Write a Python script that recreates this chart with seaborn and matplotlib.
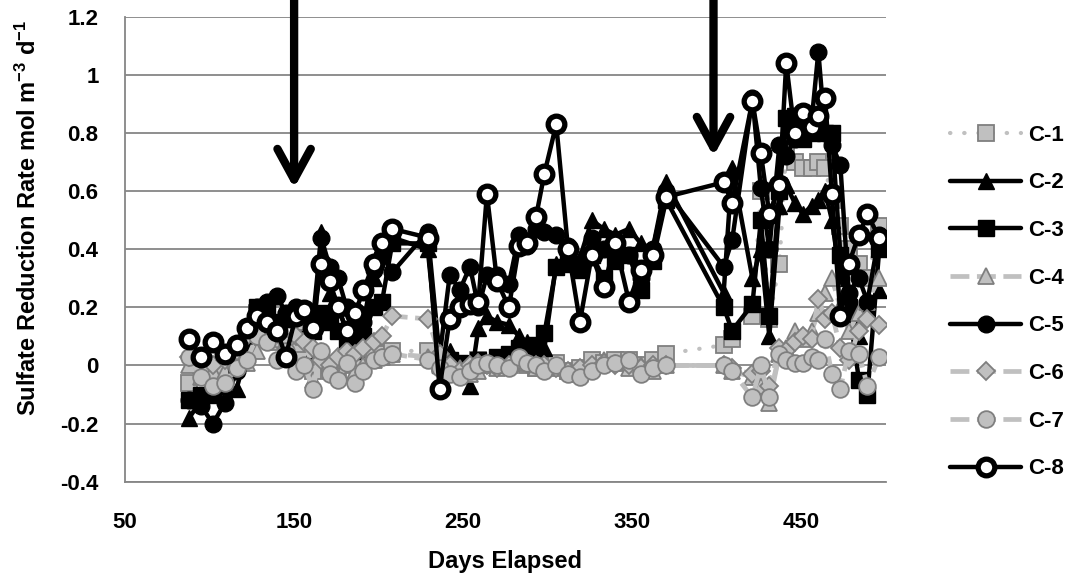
import matplotlib
matplotlib.use("Agg")
import matplotlib.pyplot as plt
import seaborn as sns

# Sampling days (days elapsed) shared by all columns
days = [88, 95, 102, 109, 116, 122, 128, 134, 140, 145,
        151, 156, 161, 166, 171, 176, 181, 186, 191, 197,
        202, 208, 229, 236, 242, 248, 254, 259, 264, 270,
        277, 283, 288, 293, 298, 305, 312, 319, 326, 333,
        340, 348, 355, 362, 370, 404, 409, 421, 426, 431,
        437, 441, 446, 451, 456, 460, 464, 468, 473, 478,
        484, 489, 496]

# Sulfate reduction rates, mol m-3 d-1
c1 = [-0.06, 0.00, -0.05, 0.00, 0.03, 0.07, 0.18, 0.12, 0.08, 0.05,
      0.05, 0.02, -0.02, 0.03, 0.00, -0.01, 0.01, 0.02, 0.00, 0.03,
      0.04, 0.05, 0.05, 0.01, 0.00, -0.01, 0.00, 0.02, 0.00, 0.01,
      0.00, 0.01, 0.00, -0.01, 0.00, 0.01, -0.02, -0.01, 0.02, 0.01,
      0.02, 0.02, 0.00, 0.02, 0.04, 0.07, 0.09, 0.17, 0.60, 0.16,
      0.35, 0.74, 0.70, 0.68, 0.68, 0.70, 0.68, 0.57, 0.48, 0.40,
      0.35, 0.30, 0.48]
c2 = [-0.18, -0.12, -0.10, -0.07, -0.08, 0.05, 0.12, 0.17, 0.14, 0.16,
      0.13, 0.10, 0.05, 0.46, 0.25, 0.20, 0.12, 0.10, 0.14, 0.30,
      0.41, 0.44, 0.40, 0.00, 0.05, -0.02, -0.07, 0.13, 0.17, 0.15,
      0.14, 0.10, 0.08, 0.05, 0.06, 0.35, 0.36, 0.37, 0.50, 0.47,
      0.45, 0.47, 0.42, 0.40, 0.63, 0.25, 0.68, 0.30, 0.40, 0.10,
      0.55, 0.62, 0.56, 0.52, 0.55, 0.57, 0.60, 0.50, 0.30, 0.25,
      0.10, 0.20, 0.26]
c3 = [-0.12, -0.10, -0.08, -0.05, 0.03, 0.11, 0.20, 0.20, 0.15, 0.16,
      0.17, 0.16, 0.12, 0.18, 0.15, 0.12, 0.08, 0.05, 0.10, 0.20,
      0.22, 0.42, 0.42, 0.02, 0.02, 0.01, 0.00, 0.02, 0.01, 0.03,
      0.04, 0.06, 0.05, 0.07, 0.11, 0.34, 0.35, 0.33, 0.38, 0.30,
      0.36, 0.38, 0.26, 0.36, 0.57, 0.20, 0.12, 0.21, 0.50, 0.17,
      0.60, 0.85, 0.86, 0.78, 0.80, 0.82, 0.80, 0.80, 0.38, 0.20,
      -0.05, -0.10, 0.40]
c4 = [0.00, -0.04, -0.02, -0.02, 0.00, 0.01, 0.05, 0.12, 0.10, 0.05,
      0.12, 0.15, -0.05, 0.05, -0.02, 0.02, 0.00, -0.02, 0.00, 0.02,
      0.03, 0.04, 0.03, 0.00, -0.02, -0.01, -0.03, -0.02, 0.00, -0.01,
      0.00, 0.02, 0.01, -0.01, 0.00, -0.01, -0.02, -0.03, 0.00, 0.02,
      0.01, -0.01, 0.00, -0.02, 0.00, 0.00, -0.02, -0.04, -0.07, -0.13,
      0.04, 0.06, 0.12, 0.09, 0.12, 0.18, 0.25, 0.30, 0.20, 0.12,
      0.18, 0.22, 0.30]
c5 = [-0.12, -0.14, -0.20, -0.13, -0.02, 0.10, 0.20, 0.22, 0.24, 0.18,
      0.20, 0.19, 0.15, 0.44, 0.34, 0.30, 0.20, 0.06, 0.15, 0.33,
      0.38, 0.32, 0.46, 0.03, 0.31, 0.26, 0.34, 0.20, 0.31, 0.31,
      0.28, 0.45, 0.41, 0.47, 0.46, 0.45, 0.41, 0.34, 0.44, 0.40,
      0.43, 0.38, 0.30, 0.40, 0.60, 0.34, 0.43, 0.92, 0.61, 0.40,
      0.76, 0.72, 0.78, 0.80, 0.84, 1.08, 0.80, 0.76, 0.69, 0.25,
      0.30, 0.22, 0.45]
c6 = [0.03, 0.02, 0.00, 0.02, 0.05, 0.10, 0.15, 0.11, 0.09, 0.08,
      0.10, 0.08, 0.06, 0.02, 0.00, 0.03, 0.05, 0.04, 0.06, 0.08,
      0.10, 0.17, 0.16, 0.04, 0.00, -0.02, 0.00, 0.01, 0.00, -0.01,
      0.00, 0.02, 0.01, 0.00, 0.00, -0.01, -0.02, -0.01, 0.00, 0.01,
      0.00, 0.00, -0.01, 0.00, 0.00, 0.00, -0.01, -0.03, -0.02, -0.07,
      0.06, 0.05, 0.08, 0.10, 0.09, 0.23, 0.16, 0.18, 0.06, 0.02,
      0.12, 0.16, 0.14]
c7 = [0.03, -0.04, -0.07, -0.06, -0.01, 0.02, 0.10, 0.08, 0.02, 0.05,
      -0.02, 0.00, -0.08, 0.05, -0.03, -0.05, 0.01, -0.06, -0.02, 0.02,
      0.03, 0.04, 0.02, -0.01, -0.03, -0.04, -0.02, 0.00, 0.01, 0.00,
      -0.01, 0.03, 0.01, 0.00, -0.02, 0.00, -0.03, -0.04, -0.02, 0.00,
      0.01, 0.02, -0.03, -0.01, 0.00, 0.00, -0.02, -0.11, 0.00, -0.11,
      0.04, 0.02, 0.01, 0.01, 0.03, 0.02, 0.09, -0.03, -0.08, 0.05,
      0.04, -0.07, 0.03]
c8 = [0.09, 0.03, 0.08, 0.04, 0.07, 0.13, 0.17, 0.15, 0.12, 0.03,
      0.17, 0.19, 0.13, 0.35, 0.29, 0.20, 0.12, 0.18, 0.26, 0.35,
      0.42, 0.47, 0.44, -0.08, 0.16, 0.20, 0.21, 0.22, 0.59, 0.29,
      0.20, 0.41, 0.42, 0.51, 0.66, 0.83, 0.40, 0.15, 0.38, 0.27,
      0.42, 0.22, 0.33, 0.38, 0.58, 0.63, 0.56, 0.91, 0.73, 0.52,
      0.62, 1.04, 0.80, 0.87, 0.82, 0.86, 0.92, 0.59, 0.17, 0.35,
      0.45, 0.52, 0.44]

series_names = ["C-1", "C-2", "C-3", "C-4", "C-5", "C-6", "C-7", "C-8"]
series_values = [c1, c2, c3, c4, c5, c6, c7, c8]

x_ticks = [50, 150, 250, 350, 450]
y_ticks = [-0.4, -0.2, 0, 0.2, 0.4, 0.6, 0.8, 1.0, 1.2]
y_tick_labels = ["-0.4", "-0.2", "0", "0.2", "0.4", "0.6", "0.8", "1", "1.2"]

# Treatment events marked with arrows: (day, rate at arrow tip)
events_day = [150, 398]
events_tip = [0.61, 0.72]

# ---- styling ----
sns.set_theme(style="white")
FONT = "Liberation Sans"
plt.rcParams["font.family"] = [FONT, "DejaVu Sans"]
plt.rcParams["font.weight"] = "bold"
plt.rcParams["text.color"] = "black"
plt.rcParams["axes.labelcolor"] = "black"
plt.rcParams["mathtext.fontset"] = "custom"
plt.rcParams["mathtext.rm"] = f"{FONT}:bold"
plt.rcParams["mathtext.it"] = f"{FONT}:bold"
plt.rcParams["mathtext.bf"] = f"{FONT}:bold"
plt.rcParams["mathtext.default"] = "bf"

BLACK = "#000000"
LINE_GRAY = "#c0c0c0"
FILL_GRAY = "#c0c0c0"
EDGE_GRAY = "#7f7f7f"
AXIS_GRAY = "#868686"
FS = 16

black_line = dict(color=BLACK, linewidth=3.2, linestyle="-")
gray_dash = dict(color=LINE_GRAY, linewidth=3.4, linestyle=(0, (4.0, 1.6)))

styles = {
    "C-1": dict(color=LINE_GRAY, linewidth=3.0, linestyle=(0, (0.1, 3.3)),
                dash_capstyle="round", marker="s", markersize=11,
                markerfacecolor=FILL_GRAY, markeredgecolor=EDGE_GRAY, markeredgewidth=1.3),
    "C-2": dict(**black_line, marker="^", markersize=12,
                markerfacecolor=BLACK, markeredgecolor=BLACK, markeredgewidth=1.0),
    "C-3": dict(**black_line, marker="s", markersize=11,
                markerfacecolor=BLACK, markeredgecolor=BLACK, markeredgewidth=1.0),
    "C-4": dict(**gray_dash, marker="^", markersize=12,
                markerfacecolor=FILL_GRAY, markeredgecolor=EDGE_GRAY, markeredgewidth=1.3),
    "C-5": dict(**black_line, marker="o", markersize=12,
                markerfacecolor=BLACK, markeredgecolor=BLACK, markeredgewidth=1.0),
    "C-6": dict(**gray_dash, marker="D", markersize=9,
                markerfacecolor=FILL_GRAY, markeredgecolor=EDGE_GRAY, markeredgewidth=1.3),
    "C-7": dict(**gray_dash, marker="o", markersize=12,
                markerfacecolor=FILL_GRAY, markeredgecolor=EDGE_GRAY, markeredgewidth=1.3),
    "C-8": dict(**black_line, marker="o", markersize=12,
                markerfacecolor="white", markeredgecolor=BLACK, markeredgewidth=3.8),
}

fig = plt.figure(figsize=(10.67, 5.86), dpi=100)
ax = fig.add_axes([125 / 1067, 1 - 481.7 / 586, (886 - 125) / 1067, 465 / 586])

for name, vals in zip(series_names, series_values):
    sns.lineplot(x=days, y=vals, ax=ax, estimator=None, sort=False,
                 errorbar=None, label=name, **styles[name])

ax.set_xlim(50, 500)
ax.set_ylim(-0.4, 1.2)
ax.set_xticks(x_ticks)
ax.set_xticklabels([str(t) for t in x_ticks])
ax.set_yticks(y_ticks)
ax.set_yticklabels(y_tick_labels)

ax.yaxis.grid(True, color=AXIS_GRAY, linewidth=1.3)
ax.xaxis.grid(False)
ax.set_axisbelow(True)
for side in ("top", "right"):
    ax.spines[side].set_visible(False)
for side in ("left", "bottom"):
    ax.spines[side].set_color(AXIS_GRAY)
    ax.spines[side].set_linewidth(1.3)

ax.tick_params(axis="both", which="major", direction="out", length=7,
               width=1.3, color=AXIS_GRAY, labelsize=FS, labelcolor=BLACK)
ax.tick_params(axis="y", pad=12)
ax.tick_params(axis="x", pad=15)
for lab in ax.get_xticklabels() + ax.get_yticklabels():
    lab.set_fontweight("bold")
    lab.set_family([FONT, "DejaVu Sans"])

ax.set_xlabel("Days Elapsed", fontsize=FS + 1, fontweight="bold",
              color=BLACK, labelpad=12)
ax.set_ylabel(r"Sulfate Reduction Rate mol m$^{-3}$ d$^{-1}$",
              fontsize=FS + 1, fontweight="bold", color=BLACK)
ax.yaxis.set_label_coords(-0.110, 0.567)

# Arrows marking treatment events, running from the top edge of the figure
for d, tip in zip(events_day, events_tip):
    ax.annotate("", xy=(d, tip), xytext=(d, 1.30), annotation_clip=False,
                arrowprops=dict(arrowstyle="->, head_length=1.1, head_width=0.6",
                                mutation_scale=20, lw=6, color=BLACK,
                                shrinkA=0, shrinkB=0))

handles, labels = ax.get_legend_handles_labels()
leg = ax.legend(handles, labels, loc="center left",
                bbox_to_anchor=(950 / 1067, 1 - 302 / 586),
                bbox_transform=fig.transFigure, frameon=False,
                handlelength=3.2, handletextpad=0.3, labelspacing=1.2,
                borderpad=0, borderaxespad=0,
                prop={"family": [FONT, "DejaVu Sans"], "weight": "bold", "size": FS})
for txt in leg.get_texts():
    txt.set_color(BLACK)

fig.savefig("out.png", dpi=100)
